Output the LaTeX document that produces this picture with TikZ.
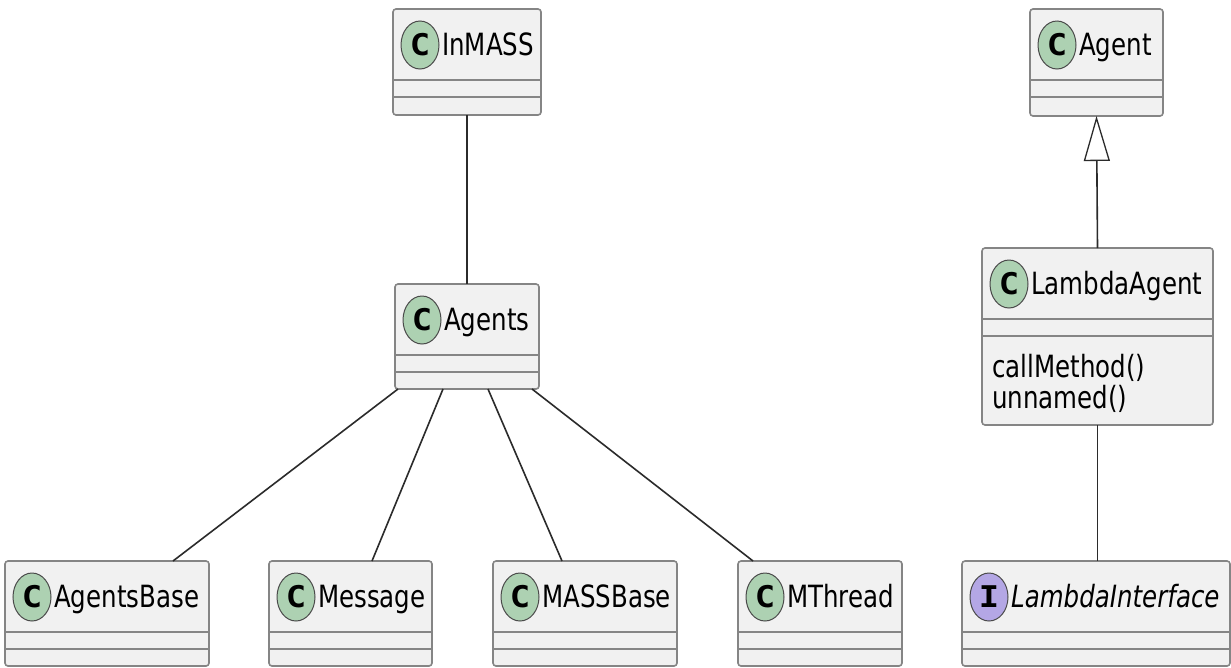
\documentclass[tikz,border=0pt]{standalone}
\usepackage{fontspec}
\usepackage{graphicx}
\setmainfont{DejaVu Sans}
\newfontfamily\spotfont{DejaVu Sans Mono}
\usetikzlibrary{arrows.meta, shapes.geometric}

\definecolor{boxfill}{HTML}{F1F1F1}
\definecolor{boxline}{HTML}{858585}
\definecolor{spotline}{HTML}{4A4A4A}
\definecolor{spotgreen}{HTML}{ADD1B2}
\definecolor{spotpurple}{HTML}{B4A7E5}
\definecolor{linkcol}{HTML}{2B2B2B}

% tall glyphs: text is stretched vertically
\newcommand\vstretch[1]{\scalebox{1}[1.25]{#1}}
% spot letters are wider and round
\newcommand\spotstretch[1]{\scalebox{1.3}[1.15]{#1}}

% class box: name, left, top, right, height, spot style, spot letter, title
\newcommand\umlbox[8]{%
  \node[classbox, minimum width=#4-#2, minimum height=#5] (#1) at (#2,#3) {};
  \draw[sepline] ([yshift=-71pt]#1.north west) -- ([yshift=-71pt]#1.north east);
  \draw[sepline] ([yshift=-88pt]#1.north west) -- ([yshift=-88pt]#1.north east);
  \node[#6] (#1-spot) at ([xshift=27pt, yshift=-36pt]#1.north west) {\spotstretch{#7}};
  \node[title] (#1-title) at ([xshift=49pt, yshift=-46pt]#1.north west) {\vstretch{#8}};
}

\begin{document}
\begin{tikzpicture}[x=1pt, y=-1pt,
  classbox/.style={draw=boxline, fill=boxfill, rounded corners=3pt, line width=1.6pt,
    inner sep=0pt, outer sep=0pt, anchor=north west},
  sepline/.style={draw=boxline, line width=1.6pt},
  spotbase/.style={ellipse, draw=spotline, line width=1pt, minimum width=38pt,
    minimum height=48pt, inner sep=0pt,
    font=\spotfont\bfseries\fontsize{26}{26}\selectfont},
  spotC/.style={spotbase, fill=spotgreen},
  spotI/.style={spotbase, fill=spotpurple},
  title/.style={anchor=base west, inner sep=0pt, font=\fontsize{24.5}{29}\selectfont},
  link/.style={draw=linkcol, line width=1.6pt}]

\useasboundingbox[fill=white] (0,0) rectangle (1231,667);

% left package
\umlbox{inmass}{393}{9}{541}{106}{spotC}{C}{InMASS}
\umlbox{agents}{395}{284}{539}{105}{spotC}{C}{Agents}
\umlbox{agentsbase}{5}{561}{209}{105}{spotC}{C}{AgentsBase}
\umlbox{message}{269}{561}{432}{105}{spotC}{C}{Message}
\umlbox{massbase}{493}{561}{677}{105}{spotC}{C}{MASSBase}
\umlbox{mthread}{738}{561}{902}{105}{spotC}{C}{MThread}

% right package
\umlbox{agent}{1030}{9}{1163}{107}{spotC}{C}{Agent}
\umlbox{lambdaagent}{982}{248}{1213}{177}{spotC}{C}{LambdaAgent}
\umlbox{lambdainterface}{962}{561}{1230}{105}{spotI}{I}{\itshape LambdaInterface}

\node[title] (lambdaagent-m1) at ([xshift=10pt, yshift=-129pt]lambdaagent.north west) {\vstretch{callMethod()}};
\node[title] (lambdaagent-m2) at ([xshift=10pt, yshift=-160pt]lambdaagent.north west) {\vstretch{unnamed()}};

% associations
\draw[link] (inmass.south) -- (agents.north);
\draw[link] ([xshift=3pt]agents.south west) -- ([xshift=168pt]agentsbase.north west);
\draw[link] ([xshift=48pt]agents.south west) -- ([xshift=103pt]message.north west);
\draw[link] ([xshift=93pt]agents.south west) -- ([xshift=69pt]massbase.north west);
\draw[link] ([xshift=137pt]agents.south west) -- ([xshift=15pt]mthread.north west);

% generalisation
\draw[link, -{Triangle[open, length=45pt, width=26pt, line width=1.3pt]}]
  (lambdaagent.north) -- (agent.south);
\draw[link] (lambdaagent.south) -- (lambdaagent.south |- lambdainterface.north);
\end{tikzpicture}
\end{document}
